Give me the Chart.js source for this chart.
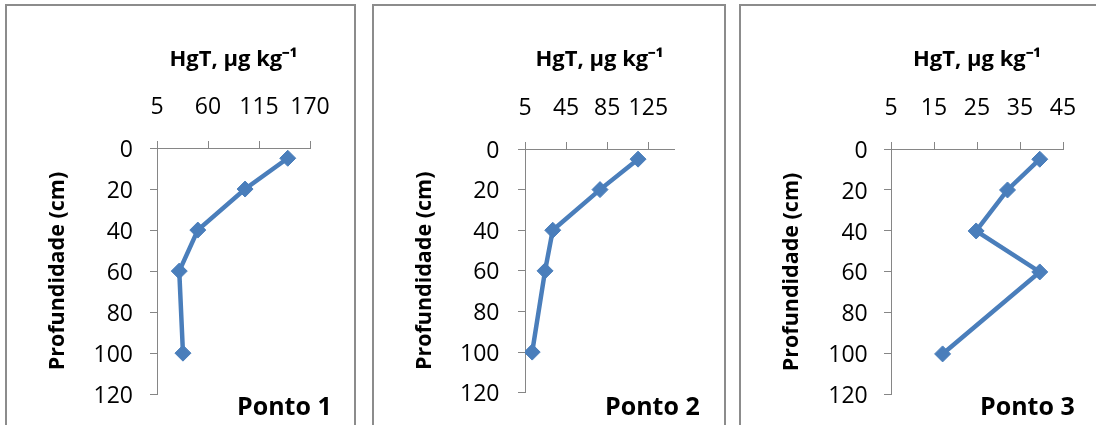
<!DOCTYPE html>
<html>
<head>
<meta charset="utf-8">
<script src="https://cdn.jsdelivr.net/npm/chart.js@4.4.0/dist/chart.umd.min.js"></script>
<style>
    body { margin: 0; background: #fff; width: 1096px; height: 425px; overflow: hidden; position: relative; }
    .frame { position: absolute; top: 4px; height: 440px; border: 2px solid #8c8c8c; box-sizing: border-box; }
    canvas { position: absolute; top: 0; }
</style>
</head>
<body>
<div class="frame" style="left:5px;width:351px"></div>
<div class="frame" style="left:372px;width:354px"></div>
<div class="frame" style="left:739px;width:400px"></div>
<canvas id="ponto1" style="left:0px" width="362" height="425"></canvas>
<canvas id="ponto2" style="left:364px" width="366" height="425"></canvas>
<canvas id="ponto3" style="left:732px" width="364" height="425"></canvas>
<script>
    "use strict";

    // profundidade (cm)
    var depths = [5, 20, 40, 60, 100];
    var depthTicks = [0, 20, 40, 60, 80, 100, 120];

    // HgT, ug/kg
    var ponto1 = [146, 100, 49, 29, 33];
    var ponto2 = [115, 78, 32, 24.5, 12];
    var ponto3 = [39.6, 32.1, 24.8, 39.6, 17];

    // x axis tick labels and range
    var ticks1 = [5, 60, 115, 170];
    var ticks2 = [5, 45, 85, 125];
    var ticks3 = [5, 15, 25, 35, 45];
    var xMin = [5, 5, 5];
    var xMax = [170, 150, 45];

    var names = ['Ponto 1', 'Ponto 2', 'Ponto 3'];

    // layout of each panel, canvas pixels
    var panels = [
        { id: 'ponto1', w: 362, area: { l: 157, t: 148, r: 310, b: 397 }, yTitleX: 58, yPad: 17, label: { x: 237, y: 415 } },
        { id: 'ponto2', w: 366, area: { l: 161, t: 149, r: 310, b: 397 }, yTitleX: 61, yPad: 18.5, label: { x: 241, y: 415 } },
        { id: 'ponto3', w: 364, area: { l: 159, t: 149, r: 331, b: 398 }, yTitleX: 59.5, yPad: 16.3, label: { x: 248, y: 415 } }
    ];

    var values = [ponto1, ponto2, ponto3];
    var xTicks = [ticks1, ticks2, ticks3];

    var FONT = '"Open Sans", "Liberation Sans", sans-serif';
    var AXIS = '#868686';
    var BLUE = '#4a7ebb';
    var xTitleFont = { family: FONT, size: 22, weight: 'bold', lineHeight: 1.2 };
    var yTitleFont = { family: FONT, size: 21.5, weight: 'bold', lineHeight: 1.2 };
    var tickFont = { family: FONT, size: 23, lineHeight: 1.2 };

    // "Ponto n" text in the lower right
    var pontoLabel = {
        id: 'pontoLabel',
        afterDraw: function (chart, args, opts) {
            var ctx = chart.ctx;
            ctx.save();
            ctx.font = 'bold 25px ' + FONT;
            ctx.fillStyle = '#000';
            ctx.textAlign = 'left';
            ctx.textBaseline = 'alphabetic';
            ctx.fillText(opts.text, opts.x, opts.y);
            ctx.restore();
        }
    };

    panels.forEach(function (p, i) {
        var padLeft = p.yTitleX - yTitleFont.size * 1.2 / 2;
        var padTop = 60 - xTitleFont.size * 1.2 / 2;
        var pts = depths.map(function (d, k) {
            return { x: values[i][k], y: d };
        });

        new Chart(document.getElementById(p.id), {
            type: 'scatter',
            data: {
                datasets: [{
                    data: pts,
                    showLine: true,
                    borderColor: BLUE,
                    borderWidth: 4.5,
                    backgroundColor: BLUE,
                    pointStyle: 'rectRot',
                    pointRadius: 8,
                    pointBorderWidth: 1,
                    pointBackgroundColor: BLUE,
                    pointBorderColor: BLUE
                }]
            },
            options: {
                responsive: false,
                animation: false,
                devicePixelRatio: 1,
                layout: {
                    padding: { left: padLeft, top: padTop, right: p.w - p.area.r, bottom: 425 - p.area.b }
                },
                plugins: {
                    legend: { display: false },
                    tooltip: { enabled: false },
                    pontoLabel: { text: names[i], x: p.label.x, y: p.label.y }
                },
                scales: {
                    x: {
                        type: 'linear',
                        position: 'top',
                        min: xMin[i],
                        max: xMax[i],
                        afterBuildTicks: function (scale) {
                            scale.ticks = xTicks[i].map(function (v) { return { value: v }; });
                        },
                        afterFit: function (scale) {
                            scale.height = p.area.t - padTop;
                        },
                        ticks: { font: tickFont, color: '#000', padding: 19.5, autoSkip: false, maxRotation: 0 },
                        grid: { drawOnChartArea: false, drawTicks: true, tickLength: 7, color: AXIS, lineWidth: 1 },
                        border: { display: true, color: AXIS, width: 1 },
                        title: { display: true, text: 'HgT, µg kg⁻¹', font: xTitleFont, color: '#000', padding: 0 }
                    },
                    y: {
                        type: 'linear',
                        reverse: true,
                        min: depthTicks[0],
                        max: depthTicks[depthTicks.length - 1],
                        afterFit: function (scale) {
                            scale.width = p.area.l - padLeft;
                        },
                        ticks: { stepSize: depthTicks[1] - depthTicks[0], font: tickFont, color: '#000', padding: p.yPad, labelOffset: 2, autoSkip: false },
                        grid: { drawOnChartArea: false, drawTicks: true, tickLength: 7, color: AXIS, lineWidth: 1 },
                        border: { display: true, color: AXIS, width: 1 },
                        title: { display: true, text: 'Profundidade (cm)', font: yTitleFont, color: '#000', padding: 0 }
                    }
                }
            },
            plugins: [pontoLabel]
        });
    });
</script>
</body>
</html>
